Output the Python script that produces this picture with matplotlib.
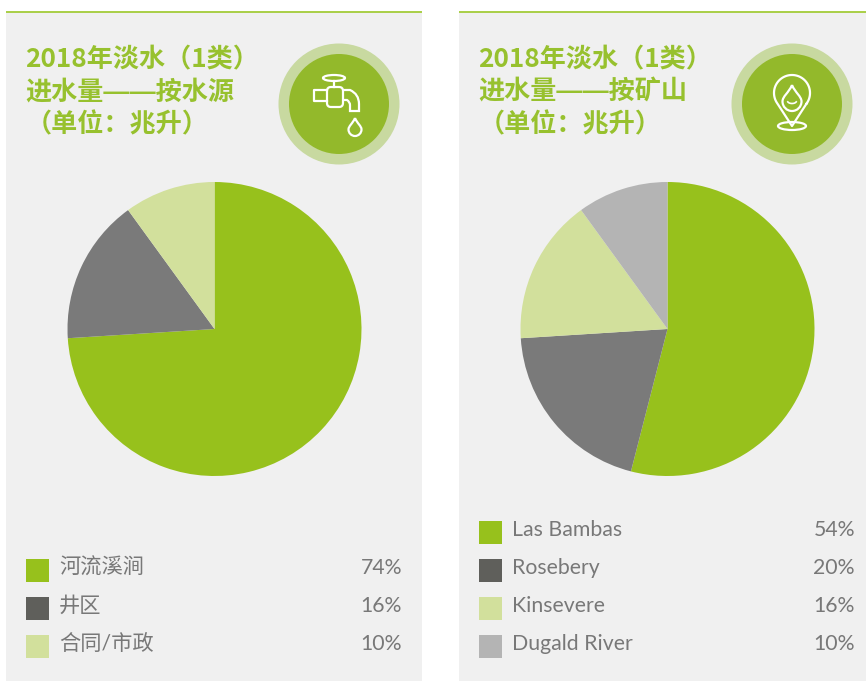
import numpy as np
import matplotlib
matplotlib.use('Agg')
import matplotlib.pyplot as plt
from matplotlib.patches import Rectangle, Circle, Ellipse, FancyBboxPatch, PathPatch
from matplotlib.path import Path

# --- data ---
source_labels = ['河流溪涧', '井区', '合同/市政']
source_values = [74, 16, 10]
mine_labels = ['Las Bambas', 'Rosebery', 'Kinsevere', 'Dugald River']
mine_values = [54, 20, 16, 10]
source_title = ['2018年淡水（1类）', '进水量——按水源', '（单位：兆升）']
mine_title = ['2018年淡水（1类）', '进水量——按矿山', '（单位：兆升）']

W, H = 866, 681
GREEN = '#97C11C'
PIE_COLORS = [GREEN, '#7A7A7A', '#D2E09C', '#B4B4B4']
KEY_COLORS = [GREEN, '#5F5F5B', '#D2E09C', '#B4B4B4']
TITLE_GREEN = '#97C12E'
TEXT_GREY = '#787878'
FONT = ['Noto Sans CJK SC', 'DejaVu Sans']
# latin face for the legend, CJK falls through to Noto
LEGEND_FONT = ['Lato', 'Noto Sans CJK SC']

plt.rcParams['font.family'] = FONT

fig = plt.figure(figsize=(W / 100, H / 100), dpi=100, facecolor='white')

# one axes in pixel coordinates for everything that is not a pie
bg = fig.add_axes([0, 0, 1, 1])
bg.set_xlim(0, W)
bg.set_ylim(H, 0)
bg.axis('off')


def draw_pie(cx, cy, r, values):
    ax = fig.add_axes([(cx - r) / W, 1 - (cy + r) / H, 2 * r / W, 2 * r / H])
    ax.pie(values, colors=PIE_COLORS[:len(values)], startangle=90, counterclock=False,
           radius=1.0)
    ax.set_xlim(-1, 1)
    ax.set_ylim(-1, 1)
    ax.patch.set_alpha(0)


def draw_panel(x0, x1, title, labels, values, first_y):
    bg.add_patch(Rectangle((x0, 12), x1 - x0, H - 12, fc='#F0F0F0', ec='none'))
    bg.plot([x0, x1], [12, 12], color='#A9CF46', lw=1.4, solid_capstyle='butt')
    for i, (text, y) in enumerate(zip(title, [67, 100, 132])):
        # second line has the long dash, Liberation draws it joined up
        fam = ['Liberation Sans', 'Noto Sans CJK SC'] if i == 1 else FONT
        bg.text(x0 + 19.5, y, text, fontsize=18.8, color=TITLE_GREEN, weight='bold',
                family=fam, ha='left', va='baseline')
    for i, (lab, val) in enumerate(zip(labels, values)):
        y = first_y + i * 38
        bg.add_patch(Rectangle((x0 + 20, y), 23, 23, fc=KEY_COLORS[i], ec='none'))
        bg.text(x0 + 53, y + 15, lab, fontsize=15.3, color=TEXT_GREY, family=LEGEND_FONT,
                ha='left', va='baseline')
        bg.text(x0 + 396, y + 15, f'{val}%', fontsize=15.3, color=TEXT_GREY, family=LEGEND_FONT,
                ha='right', va='baseline')


def draw_badge(cx, cy):
    bg.add_patch(Circle((cx, cy), 60.5, fc='#C8D9A0', ec='none'))
    bg.add_patch(Circle((cx, cy), 50, fc='#93B92B', ec='none'))


def water_drop(cx, top, bottom, r):
    cy = bottom - r
    k = 0.55 * r
    verts = [(cx, top), (cx + r * 0.35, cy - r * 0.9), (cx + r, cy - k), (cx + r, cy),
             (cx + r, cy + k), (cx + k, bottom), (cx, bottom),
             (cx - k, bottom), (cx - r, cy + k), (cx - r, cy),
             (cx - r, cy - k), (cx - r * 0.35, cy - r * 0.9), (cx, top)]
    codes = [Path.MOVETO] + [Path.CURVE4] * 12
    return Path(verts, codes)


def draw_tap():
    st = dict(fc='none', ec='white', lw=1.6)
    bg.add_patch(Ellipse((334, 78), 22, 6, **st))
    bg.plot([334, 334], [81, 87], color='white', lw=1.6)
    bg.add_patch(FancyBboxPatch((327, 87), 16, 20, boxstyle='round,pad=0,rounding_size=4', **st))
    bg.plot([327, 314, 314, 327], [90, 90, 101, 101], color='white', lw=1.6)
    spout = Path([(343, 90), (350, 90), (359, 94), (359, 104), (359, 111), (350, 111),
                  (350, 105), (350, 102), (347, 100), (343, 100)],
                 [Path.MOVETO, Path.LINETO, Path.CURVE3, Path.CURVE3, Path.LINETO, Path.LINETO,
                  Path.LINETO, Path.CURVE3, Path.CURVE3, Path.LINETO])
    bg.add_patch(PathPatch(spout, **st))
    bg.add_patch(PathPatch(water_drop(355, 118, 136, 6.5), **st))


def draw_pin():
    st = dict(fc='none', ec='white', lw=1.6)
    cx, cy, r = 792, 93, 18
    # head of the pin, arc over the top plus the two sides running to the tip
    ang = np.radians(np.linspace(-35, 215, 60))
    xs = list(cx + r * np.cos(ang)) + [cx]
    ys = list(cy - r * np.sin(ang)) + [126]
    xs.append(xs[0])
    ys.append(ys[0])
    bg.plot(xs, ys, color='white', lw=1.6, solid_joinstyle='round')
    bg.add_patch(PathPatch(water_drop(cx, 85, 111, 9.5), **st))
    bg.add_patch(Ellipse((cx, 126), 28, 8, **st))
    smile = np.radians(np.linspace(200, 340, 12))
    bg.plot(cx + 4.5 * np.cos(smile), 101 - 2.5 * np.sin(smile), color='white', lw=1.2)


draw_panel(6, 422, source_title, source_labels, source_values, 559)
draw_panel(459, 866, mine_title, mine_labels, mine_values, 521)
draw_badge(339, 104)
draw_badge(792, 104)
draw_tap()
draw_pin()
draw_pie(214.5, 329, 147, source_values)
draw_pie(667.5, 329, 147, mine_values)

fig.savefig('out.png', dpi=100, facecolor='white')
